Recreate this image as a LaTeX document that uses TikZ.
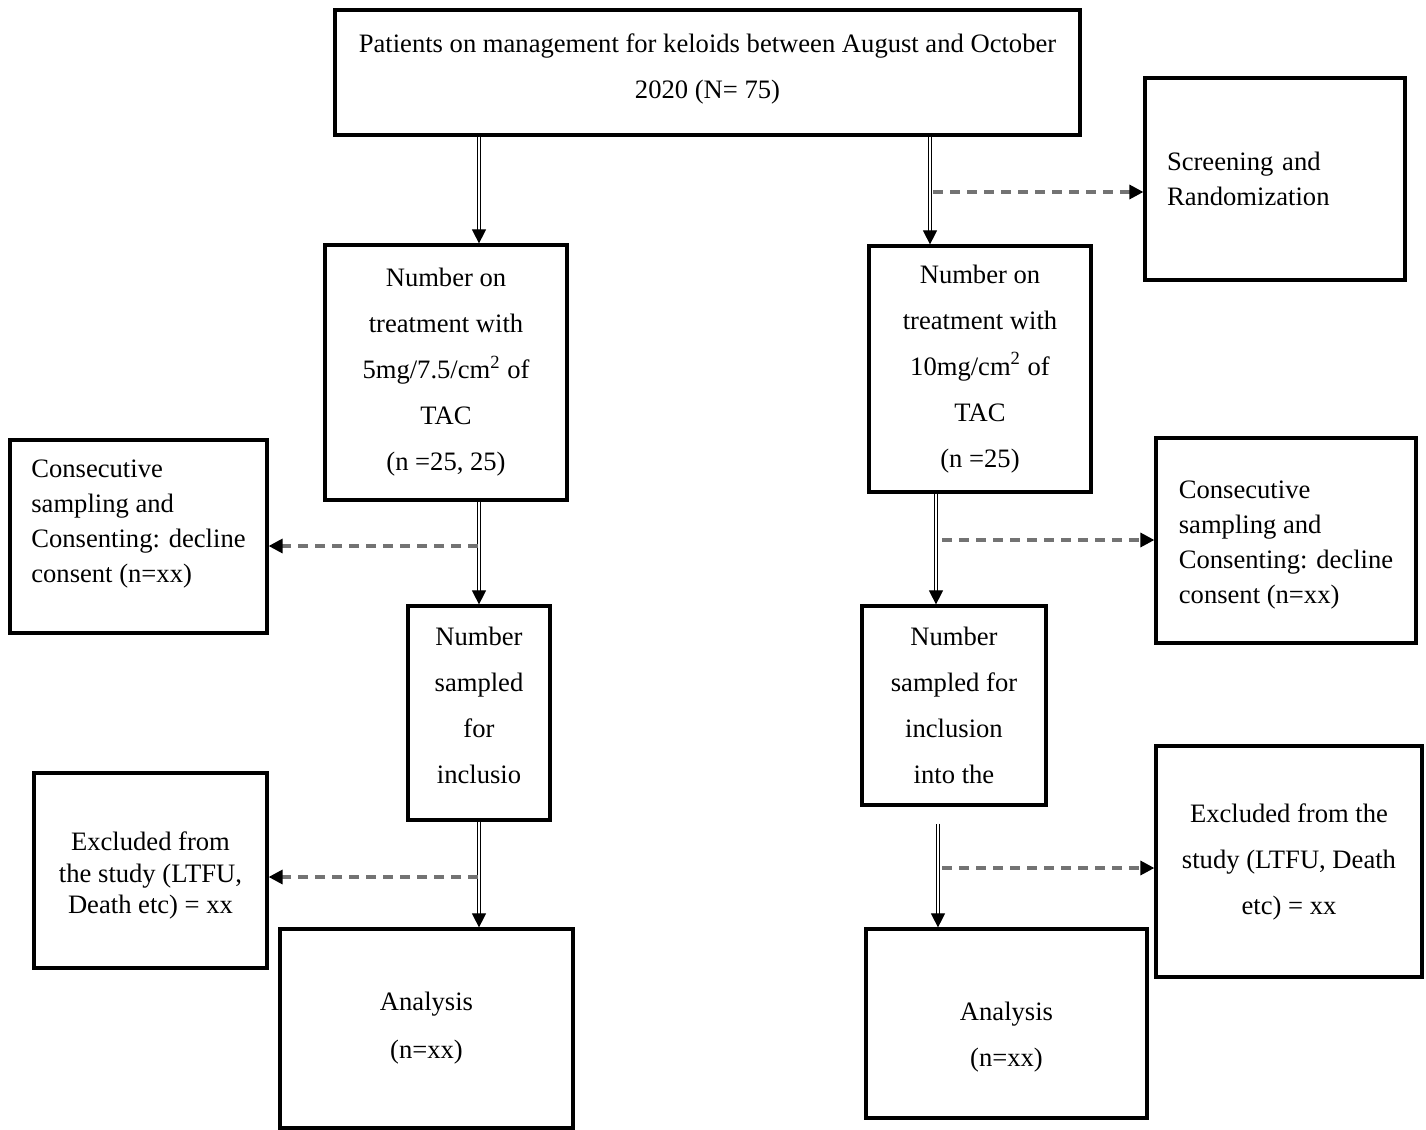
\documentclass[tikz,border=0pt]{standalone}
\usepackage{fontspec}
\setmainfont{Liberation Serif}
\usepackage{xcolor}
\usetikzlibrary{arrows.meta, positioning, shapes, calc}

% invisible struts to nudge the text inside a box
\newcommand{\topstrut}[1]{\rule{0pt}{#1}}
\newcommand{\botstrut}[1]{\rule[-#1]{0pt}{#1}}

\begin{document}
\begin{tikzpicture}[
    x=0.5pt, y=-0.5pt,
    font=\fontsize{13.3}{23}\selectfont,
    box/.style={rectangle, draw, line width=1.6pt, align=center, inner sep=0pt},
    leftbox/.style={box, align=left},
    tight/.style={font=\fontsize{13.3}{17.5}\selectfont},
    dbl/.style={draw, double, line width=0.5pt, double distance=0.7pt, -{Triangle[length=7pt, width=7pt]}},
    dasharrow/.style={draw=black!55, line width=1.6pt, dash pattern=on 5pt off 3.5pt, -{Triangle[length=7pt, width=7pt, black]}},
]
    \useasboundingbox (0,0) rectangle (1426,1130);
    % Boxes
    \node[box, minimum width=372.5pt, minimum height=62.5pt] (patients) at (707.5,72.5)
        {Patients on management for keloids between August and October\\2020 (N= 75)\botstrut{6.4pt}};
    \node[box, minimum width=130pt, minimum height=101pt, text width=108pt, align=left, tight] (screening) at (1275,179)
        {Screening and\\Randomization};
    \node[box, minimum width=121pt, minimum height=127.5pt] (treatL) at (446,372.5)
        {Number on\\treatment with\\5mg/7.5/cm\textsuperscript{2} of\\TAC\\(n =25, 25)};
    \node[box, minimum width=111pt, minimum height=123pt] (treatR) at (980,369)
        {Number on\\treatment with\\10mg/cm\textsuperscript{2} of\\TAC\\(n =25)};
    \node[leftbox, tight, minimum width=128.5pt, minimum height=96.5pt] (consentL) at (138.5,536.5)
        {Consecutive\\sampling and\\Consenting: decline\\consent (n=xx)\botstrut{15.4pt}};
    \node[leftbox, tight, minimum width=130pt, minimum height=102.5pt] (consentR) at (1286,540.5)
        {\topstrut{13pt}Consecutive\\sampling and\\Consenting: decline\\consent (n=xx)};
    \node[box, minimum width=71pt, minimum height=107pt] (sampleL) at (479,713)
        {Number\\sampled\\for\\inclusio\botstrut{8pt}};
    \node[box, minimum width=92pt, minimum height=99.5pt] (sampleR) at (954,705.5)
        {Number\\sampled for\\inclusion\\into the};
    \node[box, font=\fontsize{13.3}{15.75}\selectfont, minimum width=116.5pt, minimum height=97.5pt] (excludeL) at (150.5,870.5)
        {\topstrut{14.6pt}Excluded from\\the study (LTFU,\\Death etc) = xx};
    \node[box, minimum width=133pt, minimum height=115.5pt] (excludeR) at (1289,861.5)
        {Excluded from the\\study (LTFU, Death\\etc) = xx};
    \node[box, font=\fontsize{13.3}{24}\selectfont, minimum width=146.5pt, minimum height=99.5pt] (analysisL) at (426.5,1028.5)
        {Analysis\\(n=xx)};
    \node[box, minimum width=140.5pt, minimum height=94.5pt] (analysisR) at (1006.5,1023.5)
        {\topstrut{23.1pt}Analysis\\(n=xx)};

    % Branch points of the dashed arrows
    \coordinate (scr) at (933,192);
    \coordinate (conL) at (478,546);
    \coordinate (conR) at (942,540);
    \coordinate (excL) at (478,877);
    \coordinate (excR) at (942,868);

    % Main flow
    \draw[dbl] (patients.south -| sampleL.north) -- (treatL.north -| sampleL.north);
    \draw[dbl] ([xshift=-25pt]patients.south -| treatR.north) -- ([xshift=-25pt]treatR.north);
    \draw[dbl] (treatL.south -| sampleL.north) -- (sampleL.north);
    \draw[dbl] ([xshift=-22pt]treatR.south) -- ([xshift=-9pt]sampleR.north);
    \draw[dbl] (sampleL.south) -- (sampleL.south |- analysisL.north);
    \draw[dbl] ([xshift=-8pt, yshift=-8.5pt]sampleR.south) -- ([xshift=-8pt]sampleR.south |- analysisR.north);

    % Side branches
    \draw[dasharrow] (scr) -- (scr -| screening.west);
    \draw[dasharrow] (conL) -- (conL -| consentL.east);
    \draw[dasharrow] (conR) -- (conR -| consentR.west);
    \draw[dasharrow] (excL) -- (excL -| excludeL.east);
    \draw[dasharrow] (excR) -- (excR -| excludeR.west);
\end{tikzpicture}
\end{document}
